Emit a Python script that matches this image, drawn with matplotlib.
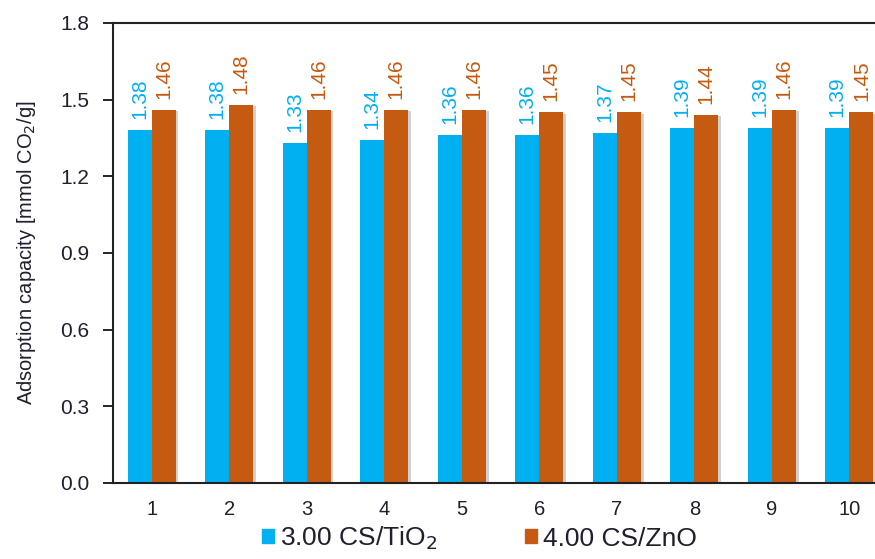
import numpy as np
import matplotlib.pyplot as plt
from matplotlib.patches import Rectangle
import matplotlib.patheffects as pe

plt.rcParams['font.family'] = ['Liberation Sans', 'DejaVu Sans']
plt.rcParams['text.color'] = '#1f1f2e'
plt.rcParams['axes.labelcolor'] = '#1f1f2e'
plt.rcParams['xtick.labelcolor'] = '#1f1f2e'
plt.rcParams['ytick.labelcolor'] = '#1f1f2e'

cycles = [1, 2, 3, 4, 5, 6, 7, 8, 9, 10]
tio2 = [1.38, 1.38, 1.33, 1.34, 1.36, 1.36, 1.37, 1.39, 1.39, 1.39]
zno = [1.46, 1.48, 1.46, 1.46, 1.46, 1.45, 1.45, 1.44, 1.46, 1.45]
series_names = ["3.00 CS/TiO$_2$", "4.00 CS/ZnO"]
colors = ["#00B0F0", "#C55A11"]
yticks = [0.0, 0.3, 0.6, 0.9, 1.2, 1.5, 1.8]

fig = plt.figure(figsize=(8.75, 5.59), dpi=100)
ax = fig.add_axes([0.129, 0.136, 0.886, 0.823])

x = np.array(cycles)
w = 0.31
shadow = [pe.SimplePatchShadow(offset=(2, -1), shadow_rgbFace="#999999", alpha=0.45),
          pe.Normal()]
b1 = ax.bar(x - w / 2, tio2, w, color=colors[0], path_effects=shadow)
b2 = ax.bar(x + w / 2, zno, w, color=colors[1], path_effects=shadow)

for bars, vals, c in [(b1, tio2, colors[0]), (b2, zno, colors[1])]:
    for b, v in zip(bars, vals):
        ax.annotate(f"{v:.2f}", (b.get_x() + b.get_width() / 2, v),
                    xytext=(0, 8), textcoords="offset points",
                    rotation=90, ha="center", va="bottom",
                    color=c, fontsize=15)

ax.set_xlim(0.5, 10.5)
ax.set_ylim(0, 1.8)
ax.set_yticks(yticks)
ax.set_yticklabels([f"{t:.1f}" for t in yticks])
ax.set_xticks(cycles)
ax.tick_params(axis="x", length=0, labelsize=14.5, pad=12)
ax.tick_params(axis="y", length=7, width=1.2, labelsize=15, pad=10)
for s in ["left", "bottom", "top"]:
    ax.spines[s].set_linewidth(1.5)
    ax.spines[s].set_color("#222222")
ax.spines["right"].set_visible(False)

ax.set_ylabel("Adsorption capacity [mmol CO$_2$/g]", fontsize=14.5, labelpad=16)

handles = [Rectangle((0, 0), 1, 1, color=c) for c in colors]
fig.legend(handles, series_names, loc="lower left", bbox_to_anchor=(0.272, -0.03),
           ncol=2, frameon=False, fontsize=19, handlelength=0.45, handleheight=0.45,
           handletextpad=0.25, columnspacing=3.3)

fig.savefig("out.png", dpi=100)
